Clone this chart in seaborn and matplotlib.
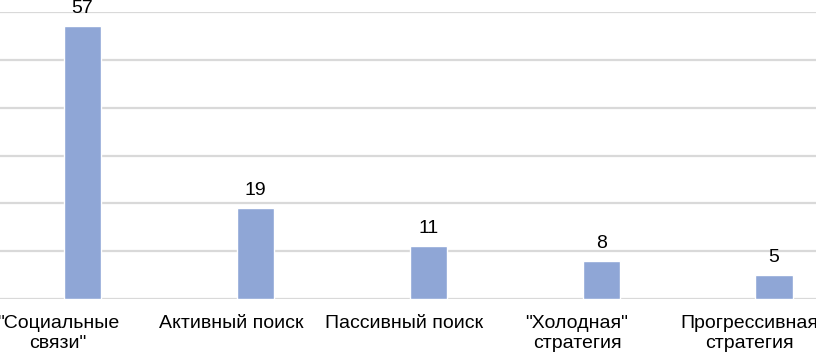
import numpy as np
import pandas as pd
import seaborn as sns
from matplotlib import pyplot as plt

categories = ['"Социальные\nсвязи"', "Активный поиск", "Пассивный поиск",
              '"Холодная"\nстратегия', "Прогрессивная\nстратегия"]
values = [57, 19, 11, 8, 5]

df = pd.DataFrame({"cat": categories, "val": values})

sns.set_style("white")
plt.rcParams["font.family"] = ["Liberation Sans", "DejaVu Sans"]

fig = plt.figure(figsize=(8.16, 3.55), dpi=100)
# axes is wider than the figure: the picture is cropped on both sides
ax = fig.add_axes([-4 / 816, 56 / 355, 864.5 / 816, 287 / 355])

sns.barplot(data=df, x="cat", y="val", color="#8FA6D6", width=0.215,
            saturation=1, ax=ax, zorder=3)

ax.set_xlim(-0.5, 4.5)
ax.set_ylim(0, 60)
ax.set_yticks(np.arange(0, 61, 10))
ax.set_yticklabels([])
ax.yaxis.grid(True, color="#d9d9d9", linewidth=1.6, zorder=0)
ax.set_axisbelow(True)
sns.despine(ax=ax, left=True, bottom=True)

# category labels sit a little left of the bars in the source
ax.set_xticks(np.arange(len(categories)) - 0.14)
ax.set_xticklabels(categories, fontsize=14, color="#000000")
ax.tick_params(axis="x", length=0, pad=11.5)
ax.tick_params(axis="y", length=0)
ax.set_xlabel("")
ax.set_ylabel("")

ax.bar_label(ax.containers[0], labels=[str(v) for v in values],
             padding=6.5, fontsize=14, color="#000000")

fig.savefig("out.png", dpi=100)
